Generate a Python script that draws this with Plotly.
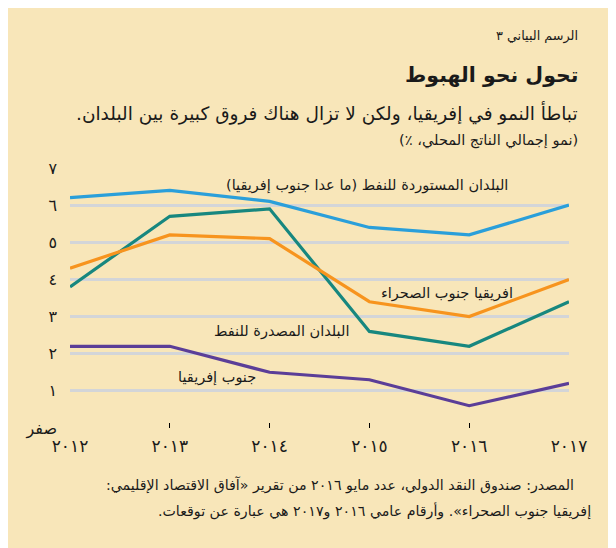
import plotly.graph_objects as go

years = [2012, 2013, 2014, 2015, 2016, 2017]
year_labels = ["٢٠١٢", "٢٠١٣", "٢٠١٤", "٢٠١٥", "٢٠١٦", "٢٠١٧"]
y_ticks = [0, 1, 2, 3, 4, 5, 6, 7]
y_tick_labels = ["صفر", "١", "٢", "٣", "٤", "٥", "٦", "٧"]

oil_importers = [6.2, 6.4, 6.1, 5.4, 5.2, 6.0]
oil_exporters = [3.8, 5.7, 5.9, 2.6, 2.2, 3.4]
ssa = [4.3, 5.2, 5.1, 3.4, 3.0, 4.0]
south_africa = [2.2, 2.2, 1.5, 1.3, 0.6, 1.2]

series = [
    ("البلدان المستوردة للنفط (ما عدا جنوب إفريقيا)", oil_importers, "#2A9FDA"),
    ("البلدان المصدرة للنفط", oil_exporters, "#17877F"),
    ("افريقيا جنوب الصحراء", ssa, "#F7941E"),
    ("جنوب إفريقيا", south_africa, "#5B3E98"),
]

FONT = "DejaVu Sans"
OFF = 8  # page body margin
W, H = 616 - OFF, 548 - OFF
L, R, T, B = 70 - OFF, 47, 168 - OFF, 120
PW, PH = W - L - R, H - T - B
RLE, PDF = "\u202B", "\u202C"


def rtl(s):
    return RLE + s + PDF


def px(x):  # page x -> paper
    return (x - OFF - L) / PW


def py(y):  # page y -> paper
    return (H - B - (y - OFF)) / PH


fig = go.Figure()
for name, vals, col in series:
    fig.add_trace(go.Scatter(x=years, y=vals, mode="lines", name=name,
                             line=dict(color=col, width=3.2), cliponaxis=False,
                             hoverinfo="skip"))

ann = []
def text(x, y, s, size, bold=False):
    ann.append(dict(xref="paper", yref="paper", x=px(x), y=py(y), text=rtl(s),
                    showarrow=False, xanchor="right", yanchor="middle",
                    font=dict(family=FONT, size=size, color="#1a1a1a",
                              weight="bold" if bold else "normal")))

text(580, 36, "الرسم البياني ٣", 12.8)
text(580, 75, "تحول نحو الهبوط", 20.5, bold=True)
text(580, 113, "تباطأ النمو في إفريقيا، ولكن لا تزال هناك فروق كبيرة بين البلدان.", 18.5)
text(580, 140, "(نمو إجمالي الناتج المحلي، ٪)", 14.6)

# series labels (data coords)
labels = [
    ("البلدان المستوردة للنفط (ما عدا جنوب إفريقيا)", 2016.41, 6.54),
    ("افريقيا جنوب الصحراء", 2016.46, 3.63),
    ("البلدان المصدرة للنفط", 2014.82, 2.61),
    ("جنوب إفريقيا", 2013.88, 1.37),
]
for s, x, y in labels:
    ann.append(dict(x=x, y=y, text=rtl(s), showarrow=False, xanchor="right",
                    yanchor="middle", font=dict(family=FONT, size=14.5, color="#1a1a1a")))

text(576, 485, "المصدر: صندوق النقد الدولي، عدد مايو ٢٠١٦ من تقرير «آفاق الاقتصاد الإقليمي:", 14.2)
text(593, 511, "إفريقيا جنوب الصحراء». وأرقام عامي ٢٠١٦ و٢٠١٧ هي عبارة عن توقعات.", 14.2)

fig.update_layout(
    width=W, height=H,
    margin=dict(l=L, r=R, t=T, b=B, autoexpand=False),
    paper_bgcolor="#F8E6B9", plot_bgcolor="rgba(0,0,0,0)",
    showlegend=False,
    annotations=ann,
    font=dict(family=FONT, color="#1a1a1a"),
)
fig.update_xaxes(range=[2012, 2017], tickvals=years, ticktext=year_labels,
                 showgrid=False, zeroline=False, showline=False, automargin=False,
                 ticks="inside", ticklen=5, tickcolor="#000", tickwidth=1,
                 tickfont=dict(family=FONT, size=17, color="#1a1a1a"),
                 ticklabelstandoff=6)
fig.update_yaxes(range=[0, 7], tickvals=y_ticks, ticktext=y_tick_labels,
                 showgrid=True, gridcolor="#D3D5D8", gridwidth=2.5, automargin=False,
                 zeroline=False, showline=False, ticks="",
                 tickfont=dict(family=FONT, size=16, color="#1a1a1a"),
                 ticklabelstandoff=12)

fig.write_html("out.html")
